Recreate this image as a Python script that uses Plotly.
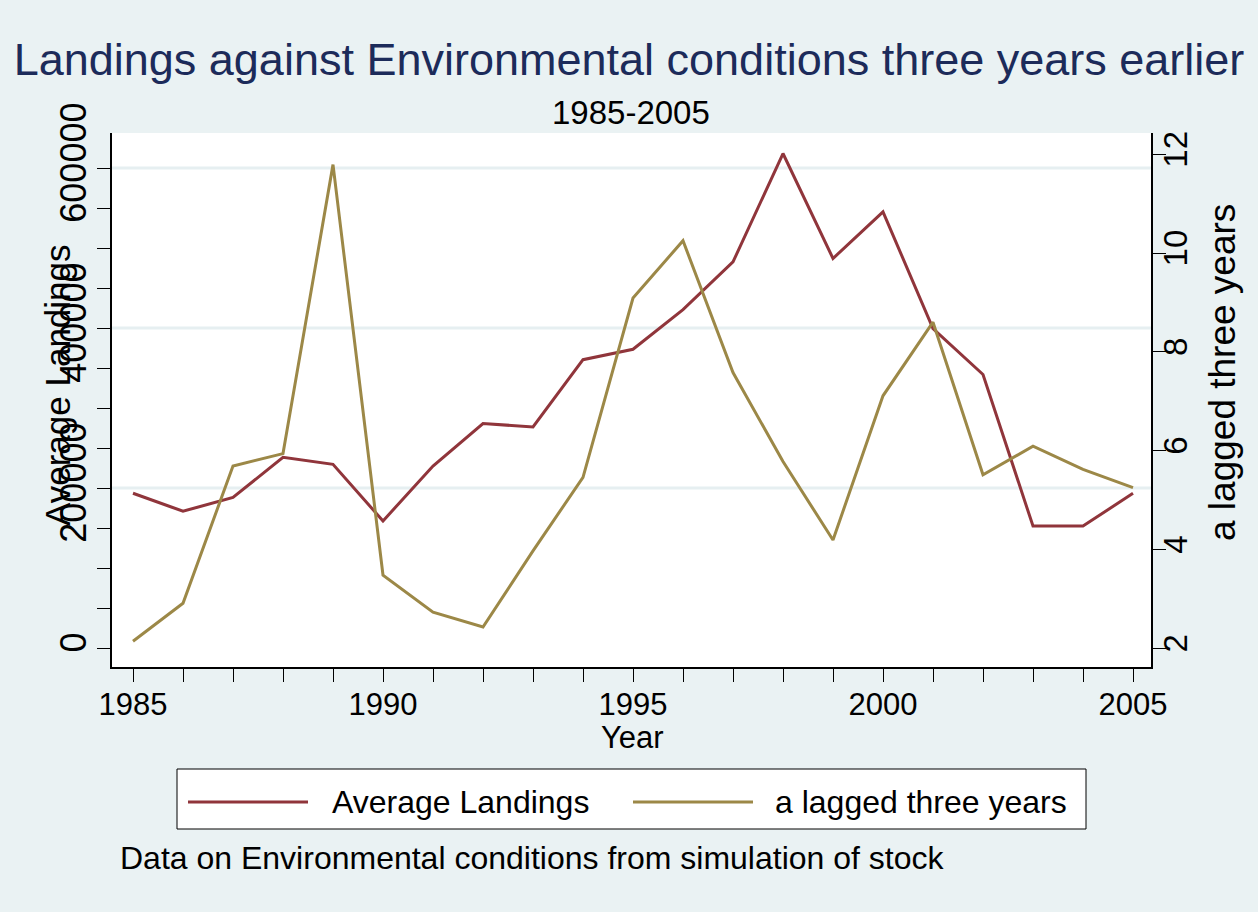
import plotly.graph_objects as go

# ---- data -------------------------------------------------------------
YEARS = list(range(1985, 2006))
AVG_LANDINGS = [193400, 170900, 188200, 238300, 229600, 158800, 227500,
                280600, 276300, 360400, 373400, 423000, 482600, 618100,
                486900, 545200, 399300, 341900, 152400, 152400, 193400]
LAGGED_ENV = [2.14, 2.91, 5.69, 5.94, 11.79, 3.48, 2.73,
              2.43, 3.97, 5.46, 9.09, 10.25, 7.58, 5.78,
              4.19, 7.11, 8.60, 5.51, 6.09, 5.62, 5.25]
SERIES_NAMES = ["Average Landings", "a lagged three years"]

LEFT_TICKS = [0, 200000, 400000, 600000]
RIGHT_TICKS = [2, 4, 6, 8, 10, 12]
X_TICKS = [1985, 1990, 1995, 2000, 2005]

TITLE = "Landings against Environmental conditions three years earlier"
SUBTITLE = "1985-2005"
NOTE = "Data on Environmental conditions from simulation of stock"

# ---- style ------------------------------------------------------------
W, H = 1258, 912
PL, PR, PT, PB = 112, 1151, 133, 667       # plot box in pixels
BG = "#EAF2F3"
GRID = "#E6EFF1"
RED = "#90353B"
GOLD = "#9C8847"
NAVY = "#1C2B5A"
FONT = "Liberation Sans, Arial, sans-serif"


def px(xp):
    return (xp - PL) / (PR - PL)


def py(yp):
    return (PB - yp) / (PB - PT)


fig = go.Figure()
fig.add_trace(go.Scatter(x=YEARS, y=AVG_LANDINGS, mode="lines",
                         name=SERIES_NAMES[0], yaxis="y",
                         line=dict(color=RED, width=3)))
fig.add_trace(go.Scatter(x=YEARS, y=LAGGED_ENV, mode="lines",
                         name=SERIES_NAMES[1], yaxis="y2",
                         line=dict(color=GOLD, width=3)))

# horizontal grid lines at the labelled landings ticks above zero
shapes = []
for v in LEFT_TICKS:
    if v > 0:
        shapes.append(dict(type="line", xref="paper", yref="y", x0=0, x1=1,
                           y0=v, y1=v, layer="below",
                           line=dict(color=GRID, width=3)))

# legend box with long line keys
lx0, lx1, ly0, ly1 = 177, 1086, 769, 829
shapes.append(dict(type="rect", xref="paper", yref="paper",
                   x0=px(lx0), x1=px(lx1), y0=py(ly1), y1=py(ly0),
                   fillcolor="white", line=dict(color="black", width=1)))
key_y = 802
for (k0, k1), col in zip([(188, 308), (633, 753)], [RED, GOLD]):
    shapes.append(dict(type="line", xref="paper", yref="paper",
                       x0=px(k0), x1=px(k1), y0=py(key_y), y1=py(key_y),
                       line=dict(color=col, width=3)))

annotations = [
    dict(text=SUBTITLE, x=px(631), y=py(112), xref="paper", yref="paper",
         showarrow=False, xanchor="center", yanchor="middle",
         font=dict(size=33, color="black", family=FONT)),
    dict(text="Year", x=px(632), y=py(737), xref="paper", yref="paper",
         showarrow=False, xanchor="center", yanchor="middle",
         font=dict(size=31, color="black", family=FONT)),
    dict(text="Average Landings", x=px(57), y=py(385), xref="paper",
         yref="paper", showarrow=False, textangle=-90,
         xanchor="center", yanchor="middle",
         font=dict(size=35, color="black", family=FONT)),
    dict(text="a lagged three years", x=px(1222), y=py(373), xref="paper",
         yref="paper", showarrow=False, textangle=-90,
         xanchor="center", yanchor="middle",
         font=dict(size=37, color="black", family=FONT)),
    dict(text=SERIES_NAMES[0], x=px(330), y=py(key_y), xref="paper",
         yref="paper", showarrow=False, xanchor="left", yanchor="middle",
         font=dict(size=32, color="black", family=FONT)),
    dict(text=SERIES_NAMES[1], x=px(773), y=py(key_y), xref="paper",
         yref="paper", showarrow=False, xanchor="left", yanchor="middle",
         font=dict(size=32, color="black", family=FONT)),
    dict(text=NOTE, x=px(118), y=py(858), xref="paper", yref="paper",
         showarrow=False, xanchor="left", yanchor="middle",
         font=dict(size=32, color="black", family=FONT)),
]

fig.update_layout(
    width=W, height=H, autosize=False,
    margin=dict(l=PL, r=W - PR, t=PT, b=H - PB, pad=0),
    paper_bgcolor=BG, plot_bgcolor="white",
    showlegend=False,
    font=dict(family=FONT, color="black"),
    title=dict(text=TITLE, x=0.5, xref="container", xanchor="center",
               y=1 - 59 / H, yref="container", yanchor="middle",
               font=dict(size=45, color=NAVY, family=FONT)),
    xaxis=dict(range=[1984.58, 2005.36], tickmode="array", tickvals=X_TICKS,
               ticks="outside", ticklen=13, tickwidth=1.2, tickcolor="black",
               showline=True, linecolor="black", linewidth=1.5,
               showgrid=False, zeroline=False,
               tickfont=dict(size=31, family=FONT), ticklabelstandoff=-4,
               minor=dict(dtick=1, tick0=1985, ticks="outside", ticklen=13,
                          tickwidth=1.2, tickcolor="black", showgrid=False)),
    yaxis=dict(range=[-23750, 643750], tickmode="array", tickvals=LEFT_TICKS,
               ticktext=[str(v) for v in LEFT_TICKS],
               ticks="outside", ticklen=13, tickwidth=1.2, tickcolor="black",
               showline=True, linecolor="black", linewidth=1.5,
               showgrid=False, zeroline=False, tickangle=-90,
               tickfont=dict(size=36, family=FONT), ticklabelstandoff=-3,
               minor=dict(dtick=50000, tick0=0, ticks="outside", ticklen=13,
                          tickwidth=1.2, tickcolor="black", showgrid=False)),
    yaxis2=dict(range=[1.62, 12.43], overlaying="y", side="right",
                tickmode="array", tickvals=RIGHT_TICKS,
                ticks="outside", ticklen=13, tickwidth=1.2, tickcolor="black",
                showline=True, linecolor="black", linewidth=1.5,
                showgrid=False, zeroline=False, tickangle=-90,
                tickfont=dict(size=33, family=FONT), ticklabelstandoff=-18),
    shapes=shapes,
    annotations=annotations,
)

fig.write_html("out.html")
